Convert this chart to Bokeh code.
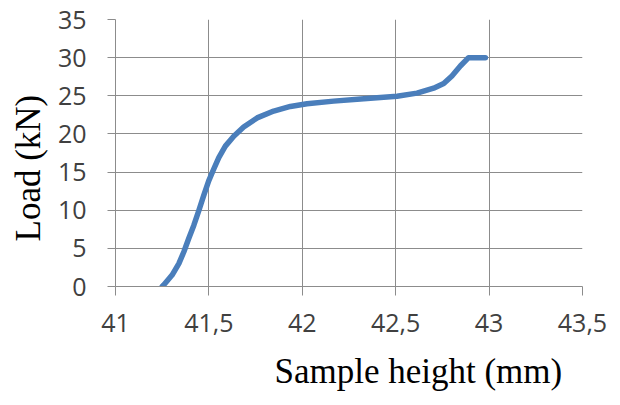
from bokeh.plotting import figure
from bokeh.models import Range1d, FixedTicker, CustomJSTickFormatter, Title
from bokeh.embed import file_html
from bokeh.resources import INLINE

# Data
sample_height = [41.25, 41.258, 41.303, 41.339, 41.366, 41.392, 41.419, 41.446, 41.472,
                 41.499, 41.526, 41.553, 41.588, 41.633, 41.686, 41.758, 41.847, 41.936,
                 42.025, 42.168, 42.347, 42.507, 42.614, 42.703, 42.757, 42.801, 42.846,
                 42.89, 42.98]
load_kn = [0.0, 0.2, 1.5, 3.0, 4.55, 6.3, 8.0, 9.95, 11.9,
           13.85, 15.4, 16.9, 18.4, 19.7, 20.9, 22.1, 23.0, 23.6,
           23.95, 24.3, 24.65, 24.95, 25.35, 26.0, 26.6, 27.6, 28.9,
           30.0, 30.0]

x_ticks = [41, 41.5, 42, 42.5, 43, 43.5]
y_ticks = [0, 5, 10, 15, 20, 25, 30, 35]
x_title = "Sample height (mm)"
y_title = "Load (kN)"

GRID = "#8c8c8c"
TICK_FONT = "Open Sans"
TITLE_FONT = "Liberation Serif"

p = figure(width=620, height=405, output_backend="svg", toolbar_location=None,
           x_range=Range1d(41, 43.5), y_range=Range1d(0, 35),
           min_border_left=115, min_border_right=38, min_border_top=19,
           min_border_bottom=117)
p.outline_line_color = None
p.background_fill_color = "white"
p.border_fill_color = "white"

p.line(sample_height, load_kn, line_width=5.5, line_color="#4a7ebb",
       line_cap="round", line_join="round")

p.xaxis.ticker = FixedTicker(ticks=x_ticks)
p.yaxis.ticker = FixedTicker(ticks=y_ticks)
p.xgrid.ticker = FixedTicker(ticks=x_ticks)
p.ygrid.ticker = FixedTicker(ticks=y_ticks)
p.xaxis.formatter = CustomJSTickFormatter(code="return tick.toString().replace('.', ',');")

for g in (p.xgrid, p.ygrid):
    g.grid_line_color = GRID
    g.grid_line_width = 1

for ax in (p.xaxis, p.yaxis):
    ax.axis_line_color = GRID
    ax.major_tick_line_color = GRID
    ax.minor_tick_line_color = None
    ax.major_tick_in = 0
    ax.major_label_text_font = TICK_FONT
    ax.major_label_text_font_size = "25px"
    ax.major_label_text_color = "#404040"

p.xaxis.major_tick_out = 9
p.yaxis.major_tick_out = 8
p.xaxis.major_label_standoff = 18
p.yaxis.major_label_standoff = 21

p.add_layout(Title(text=x_title, align="left", offset=159, standoff=30,
                   text_font=TITLE_FONT, text_font_size="35px",
                   text_font_style="normal", text_color="black"), "below")
p.add_layout(Title(text=y_title, align="left", offset=45, standoff=13,
                   text_font=TITLE_FONT, text_font_size="35px",
                   text_font_style="normal", text_color="black"), "left")

open("out.html", "w").write(file_html(p, INLINE))
